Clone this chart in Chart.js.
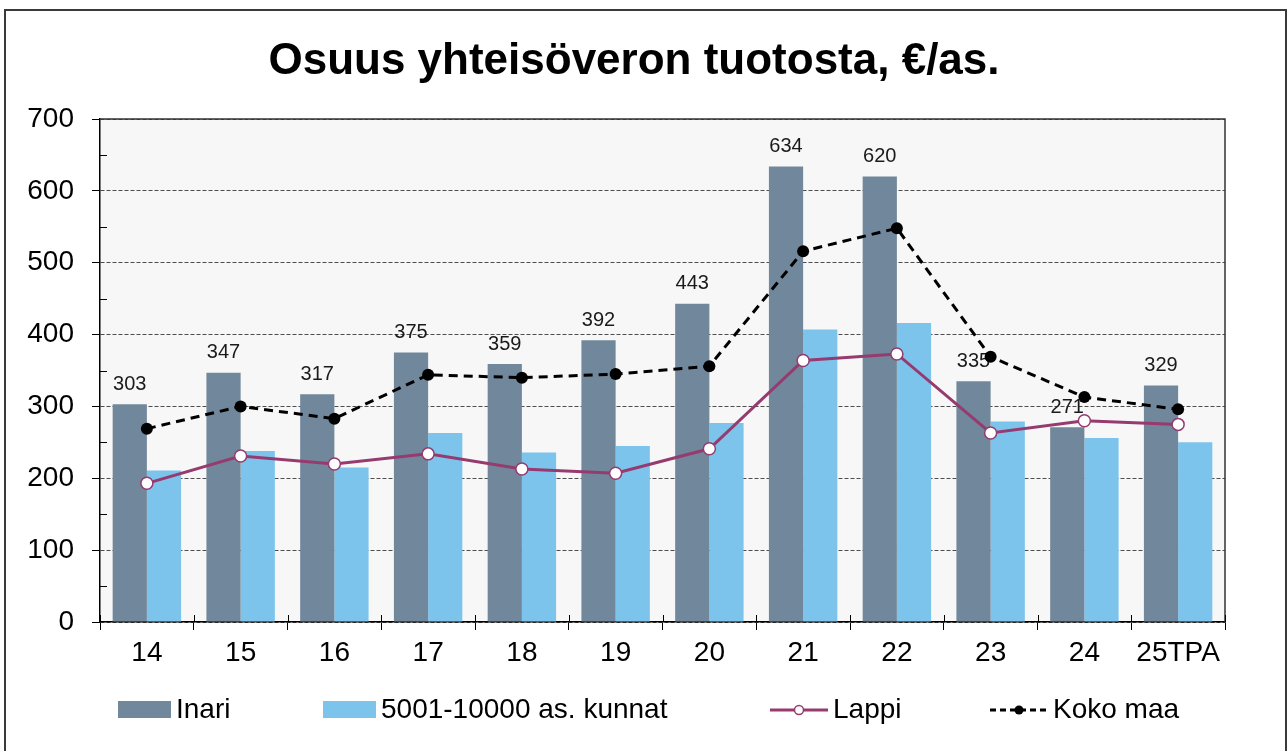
<!DOCTYPE html>
<html>
<head>
<meta charset="utf-8">
<title>Osuus yhteisöveron tuotosta</title>
<script src="https://cdn.jsdelivr.net/npm/chart.js@4.4.0/dist/chart.umd.min.js"></script>
<style>
  html, body { margin: 0; padding: 0; background: #fff; }
  #wrap { width: 1288px; height: 751px; }
</style>
</head>
<body>
<div id="wrap"><canvas id="chart" width="1288" height="751"></canvas></div>
<script>
// vuodet (x-akseli)
const years = ["14", "15", "16", "17", "18", "19", "20", "21", "22", "23", "24", "25TPA"];

// €/asukas
const inari = [303, 347, 317, 375, 359, 392, 443, 634, 620, 335, 271, 329];
const kunnat = [211, 238, 215, 263, 236, 245, 277, 407, 416, 279, 256, 250];
const lappi = [193, 231, 220, 234, 213, 207, 241, 364, 373, 263, 280, 275];
const kokoMaa = [269, 300, 283, 344, 340, 345, 356, 516, 548, 369, 313, 296];

const yMin = 0;
const yMax = 700;
const yStep = 100;

const titleText = "Osuus yhteisöveron tuotosta, €/as.";
const font = "'Liberation Sans', Arial, sans-serif";

// taustat, otsikko, arvot, selite
const decor = {
  id: "decor",
  beforeDraw(chart) {
    const { ctx, chartArea: a } = chart;
    ctx.save();
    ctx.fillStyle = "#f7f7f7";
    ctx.fillRect(a.left, a.top, a.right - a.left, a.bottom - a.top);
    ctx.strokeStyle = "#3a3a3a";
    ctx.lineWidth = 2;
    ctx.strokeRect(5, 10, 1281, 800);
    ctx.restore();
  },
  afterDatasetDraw(chart, args) {
    if (args.index !== 0) return;
    const ctx = chart.ctx;
    const meta = chart.getDatasetMeta(0);
    ctx.save();
    ctx.font = "20px " + font;
    ctx.fillStyle = "#1a1a1a";
    ctx.textAlign = "center";
    ctx.textBaseline = "middle";
    meta.data.forEach((bar, i) => {
      ctx.fillText(chart.data.datasets[0].data[i], bar.x, bar.y - 20);
    });
    ctx.restore();
  },
  afterDraw(chart) {
    const { ctx, chartArea: a, scales } = chart;
    ctx.save();

    // kehys oikealle ja ylös
    ctx.strokeStyle = "#333";
    ctx.lineWidth = 1.5;
    ctx.beginPath();
    ctx.moveTo(a.left, a.top);
    ctx.lineTo(a.right, a.top);
    ctx.lineTo(a.right, a.bottom);
    ctx.stroke();

    // pienet väliviivat
    ctx.strokeStyle = "#000";
    ctx.lineWidth = 1;
    ctx.beginPath();
    for (let v = yMin + yStep / 2; v < yMax; v += yStep) {
      const y = Math.round(scales.y.getPixelForValue(v)) + 0.5;
      ctx.moveTo(a.left, y);
      ctx.lineTo(a.left + 7, y);
    }
    const half = (scales.x.getPixelForValue(1) - scales.x.getPixelForValue(0)) / 2;
    for (let i = 0; i <= years.length; i++) {
      const x = Math.round(scales.x.getPixelForValue(i) - half) + 0.5;
      ctx.moveTo(x, a.bottom - 7);
      ctx.lineTo(x, a.bottom);
    }
    ctx.stroke();

    // otsikko
    ctx.fillStyle = "#000";
    ctx.font = "bold 44px " + font;
    ctx.textAlign = "center";
    ctx.textBaseline = "middle";
    ctx.fillText(titleText, 634, 62);

    // selite
    const starts = [118, 323, 770, 990];
    const ly = 710;
    ctx.font = "28px " + font;
    ctx.textAlign = "left";
    chart.data.datasets.forEach((ds, i) => {
      const x = starts[i];
      let end;
      if (ds.type === "line") {
        end = x + 58;
        ctx.save();
        ctx.strokeStyle = ds.borderColor;
        ctx.lineWidth = ds.borderWidth;
        ctx.setLineDash(ds.borderDash ? [6, 4] : []);
        ctx.beginPath();
        ctx.moveTo(x, ly);
        ctx.lineTo(end, ly);
        ctx.stroke();
        ctx.setLineDash([]);
        ctx.beginPath();
        ctx.arc(x + 29, ly, 4.5, 0, Math.PI * 2);
        ctx.fillStyle = ds.pointBackgroundColor;
        ctx.fill();
        if (ds.pointBorderWidth) {
          ctx.lineWidth = ds.pointBorderWidth;
          ctx.strokeStyle = ds.pointBorderColor;
          ctx.stroke();
        }
        ctx.restore();
      } else {
        end = x + 53;
        ctx.fillStyle = ds.backgroundColor;
        ctx.fillRect(x, ly - 9, 53, 17);
      }
      ctx.fillStyle = "#000";
      ctx.fillText(ds.label, end + 5, ly);
    });
    ctx.restore();
  }
};

new Chart(document.getElementById("chart"), {
  type: "bar",
  data: {
    labels: years,
    datasets: [
      {
        label: "Inari",
        data: inari,
        backgroundColor: "#71879b",
        barPercentage: 1,
        categoryPercentage: 0.73,
        order: 2
      },
      {
        label: "5001-10000 as. kunnat",
        data: kunnat,
        backgroundColor: "#7dc4ed",
        barPercentage: 1,
        categoryPercentage: 0.73,
        order: 2
      },
      {
        type: "line",
        label: "Lappi",
        data: lappi,
        borderColor: "#953b6f",
        borderWidth: 3,
        pointRadius: 6,
        pointBackgroundColor: "#fff",
        pointBorderColor: "#953b6f",
        pointBorderWidth: 1.5,
        tension: 0,
        order: 1
      },
      {
        type: "line",
        label: "Koko maa",
        data: kokoMaa,
        borderColor: "#000",
        borderWidth: 3,
        borderDash: [9, 6],
        pointRadius: 6,
        pointBackgroundColor: "#000",
        pointBorderWidth: 0,
        tension: 0,
        order: 0
      }
    ]
  },
  options: {
    responsive: false,
    animation: false,
    devicePixelRatio: 1,
    layout: { padding: { top: 119, right: 63, bottom: 69, left: 0 } },
    plugins: {
      legend: { display: false },
      title: { display: false },
      tooltip: { enabled: false }
    },
    scales: {
      x: {
        grid: {
          offset: true,
          drawOnChartArea: false,
          tickLength: 8,
          tickColor: "#000"
        },
        border: { color: "#000", width: 1.5 },
        ticks: {
          color: "#000",
          font: { size: 28, family: font },
          padding: 6,
          maxRotation: 0,
          autoSkip: false
        },
        afterFit(scale) { scale.height = 60; }
      },
      y: {
        min: yMin,
        max: yMax,
        grid: {
          color: "#4d4d4d",
          lineWidth: 1,
          tickLength: 8,
          tickColor: "#000",
          tickBorderDash: []
        },
        border: { color: "#000", width: 1.5, dash: [4, 2] },
        ticks: {
          stepSize: yStep,
          color: "#000",
          font: { size: 28, family: font },
          padding: 18
        },
        afterFit(scale) { scale.width = 100; }
      }
    }
  },
  plugins: [decor]
});
</script>
</body>
</html>
